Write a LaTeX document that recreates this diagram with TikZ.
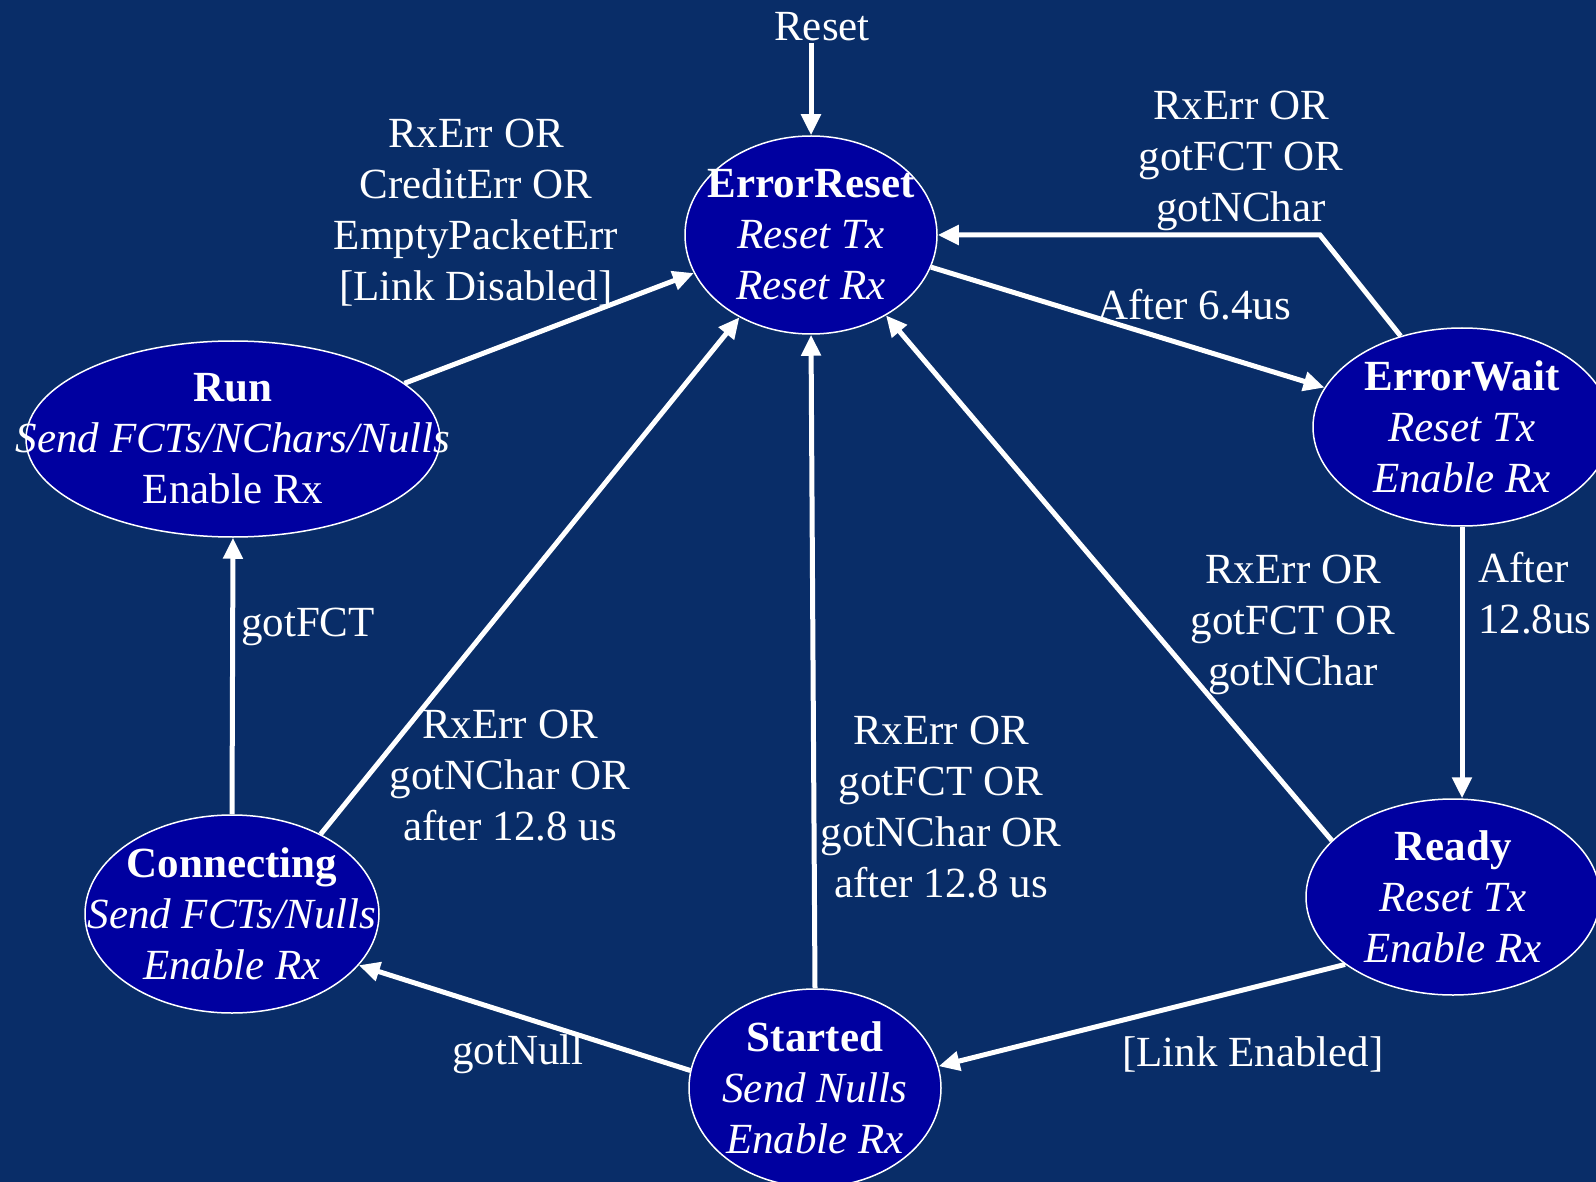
\documentclass[tikz,border=0pt]{standalone}
\usepackage{fontspec}
\setmainfont{Liberation Serif}
\usetikzlibrary{shapes.geometric,arrows.meta}
\definecolor{bgc}{RGB}{9,45,104}
\definecolor{statec}{RGB}{0,0,160}
\begin{document}
\begin{tikzpicture}[x=1pt,y=-1pt,
  state/.style={ellipse,draw=white,line width=1.5pt,fill=statec,text=white,inner sep=-300pt,align=center,font=\fontsize{43}{51}\selectfont},
  lbl/.style={text=white,align=center,font=\fontsize{43}{51}\selectfont,inner sep=0pt},
  tr/.style={draw=white,line width=5pt,-{Triangle[length=21pt,width=19pt]}}]
\fill[bgc] (0,0) rectangle (1596,1182);
\useasboundingbox (0,0) rectangle (1596,1182);

\node[state,minimum width=252pt,minimum height=198pt] (er) at (811,235) {\textbf{ErrorReset}\\\textit{Reset Tx}\\\textit{Reset Rx}};
\node[state,minimum width=298pt,minimum height=198pt] (ew) at (1462,427) {\textbf{ErrorWait}\\\textit{Reset Tx}\\\textit{Enable Rx}};
\node[state,minimum width=294pt,minimum height=196pt] (ready) at (1453,897) {\textbf{Ready}\\\textit{Reset Tx}\\\textit{Enable Rx}};
\node[state,minimum width=252pt,minimum height=198pt] (st) at (815,1088) {\textbf{Started}\\\textit{Send Nulls}\\\textit{Enable Rx}};
\node[state,minimum width=294pt,minimum height=198pt] (con) at (232,914) {\textbf{Connecting}\\\textit{Send FCTs/Nulls}\\\textit{Enable Rx}};
\node[state,minimum width=414pt,minimum height=196pt] (run) at (233,439) {\textbf{Run}\\\textit{Send FCTs/NChars/Nulls}\\Enable Rx};

\node[lbl] (reset) at (822,27) {Reset};
\coordinate (rtop) at (814,43);
\node[lbl] (l2) at (476,213) {RxErr OR\\CreditErr OR\\EmptyPacketErr\\{[Link Disabled]}};
\node[lbl] (l3) at (1194,305) {After 6.4us};
\node[lbl] (l4) at (1241,161) {RxErr OR\\gotFCT OR\\gotNChar};
\node[lbl,align=left,anchor=west] (l5) at (1478,593) {After\\12.8us};
\node[lbl] (l6) at (1293,625) {RxErr OR\\gotFCT OR\\gotNChar};
\node[lbl] (l7) at (1253,1054) {[Link Enabled]};
\node[lbl] (l8) at (941,807) {RxErr OR\\gotFCT OR\\gotNChar OR\\after 12.8 us};
\node[lbl] (l9) at (518,1054) {gotNull};
\node[lbl] (l10) at (510,776) {RxErr OR\\gotNChar OR\\after 12.8 us};
\node[lbl] (l11) at (308,627) {gotFCT};

\coordinate (corner) at (1320,235);

\draw[tr] (er.north |- rtop) -- (er.north);
\draw[tr] (run.18) -- (er.198);
\draw[tr] (er.-15) -- (ew.164);
\draw[tr] (ew.124) -- (corner) -- (er.east);
\draw[tr] (ew.south) -- (ew.south |- ready.north);
\draw[tr] (ready.155) -- (er.-47);
\draw[tr] (ready.212) -- (st.10);
\draw[tr] (st.north) -- (er.south);
\draw[tr] (st.172) -- (con.-22);
\draw[tr] (con.42) -- (er.229);
\draw[tr] (con.north) -- (run.south);
\end{tikzpicture}
\end{document}
